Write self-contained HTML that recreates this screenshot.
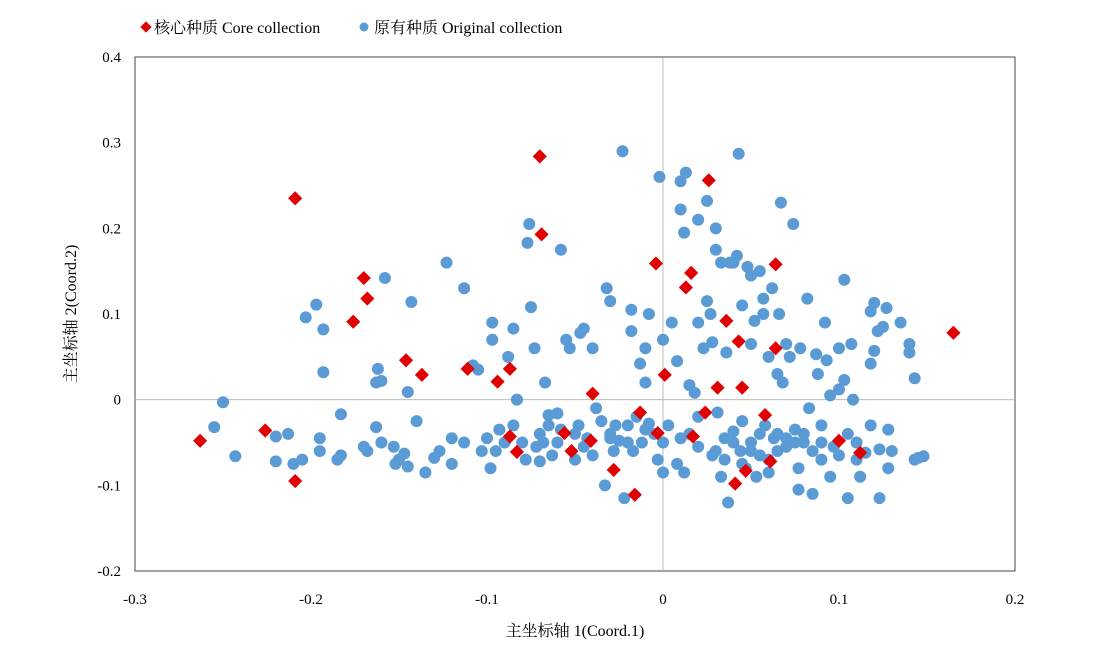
<!DOCTYPE html>
<html><head><meta charset="utf-8"><style>
body{margin:0;background:#fff;}
svg{display:block;font-family:"Liberation Serif","Noto Serif CJK SC",serif;}
</style></head><body>
<svg id="chart" width="1100" height="653" viewBox="0 0 1100 653">
<g>
<rect x="142" y="23" width="8" height="8" fill="#e00000" transform="rotate(45 146 27)"/>
<text x="154" y="33" font-size="16">核心种质 Core collection</text>
<circle cx="364" cy="27" r="4.5" fill="#5b9bd5"/>
<text x="374" y="33" font-size="16">原有种质 Original collection</text>
</g>
<rect x="135" y="57" width="880" height="514" fill="none" stroke="#444" stroke-width="1"/>
<g id="grid"></g><g id="ticks"></g><g id="marks"></g>
<text x="575" y="636" font-size="16" text-anchor="middle">主坐标轴 1(Coord.1)</text>
<text transform="translate(76 314) rotate(-90)" font-size="16" text-anchor="middle">主坐标轴 2(Coord.2)</text>
</svg>
<script>
const xTicks=[-0.3,-0.2,-0.1,0,0.1,0.2];
const yTicks=[-0.2,-0.1,0,0.1,0.2,0.3,0.4];
const coreX=[-0.263,-0.226,-0.209,-0.209,-0.176,-0.170,-0.168,-0.146,-0.137,-0.111,-0.094,-0.087,-0.087,-0.083,-0.070,-0.069,-0.056,-0.052,-0.040,-0.041,-0.028,-0.016,-0.013,-0.004,-0.003,0.001,0.013,0.016,0.017,0.026,0.024,0.031,0.036,0.043,0.045,0.047,0.041,0.058,0.064,0.061,0.064,0.100,0.112,0.165];
const coreY=[-0.048,-0.036,0.235,-0.095,0.091,0.142,0.118,0.046,0.029,0.036,0.021,0.036,-0.043,-0.061,0.284,0.193,-0.039,-0.060,0.007,-0.048,-0.082,-0.111,-0.015,0.159,-0.039,0.029,0.131,0.148,-0.043,0.256,-0.015,0.014,0.092,0.068,0.014,-0.083,-0.098,-0.018,0.158,-0.072,0.060,-0.048,-0.062,0.078];
const origPts=[[-0.25,-0.003],[-0.255,-0.032],[-0.243,-0.066],[-0.22,-0.043],[-0.22,-0.072],[-0.213,-0.04],[-0.21,-0.075],[-0.205,-0.07],[-0.203,0.096],[-0.197,0.111],[-0.195,-0.045],[-0.195,-0.06],[-0.193,0.082],[-0.193,0.032],[-0.183,-0.017],[-0.183,-0.065],[-0.185,-0.07],[-0.17,-0.055],[-0.168,-0.06],[-0.163,-0.032],[-0.163,0.02],[-0.162,0.036],[-0.16,0.022],[-0.158,0.142],[-0.16,-0.05],[-0.153,-0.055],[-0.152,-0.075],[-0.15,-0.07],[-0.147,-0.063],[-0.145,-0.078],[-0.145,0.009],[-0.143,0.114],[-0.14,-0.025],[-0.135,-0.085],[-0.13,-0.068],[-0.127,-0.06],[-0.123,0.16],[-0.12,-0.075],[-0.12,-0.045],[-0.113,0.13],[-0.113,-0.05],[-0.108,0.04],[-0.105,0.035],[-0.103,-0.06],[-0.1,-0.045],[-0.098,-0.08],[-0.097,0.09],[-0.097,0.07],[-0.095,-0.06],[-0.093,-0.035],[-0.09,-0.05],[-0.088,0.05],[-0.085,0.083],[-0.085,-0.03],[-0.083,0.0],[-0.08,-0.05],[-0.078,-0.07],[-0.077,0.183],[-0.076,0.205],[-0.075,0.108],[-0.073,0.06],[-0.072,-0.055],[-0.07,-0.072],[-0.07,-0.04],[-0.068,-0.05],[-0.067,0.02],[-0.065,-0.018],[-0.063,-0.065],[-0.06,-0.016],[-0.058,-0.035],[-0.058,0.175],[-0.055,0.07],[-0.053,0.06],[-0.05,-0.07],[-0.048,-0.03],[-0.047,0.078],[-0.045,0.083],[-0.043,-0.045],[-0.04,0.06],[-0.04,-0.065],[-0.038,-0.01],[-0.035,-0.025],[-0.033,-0.1],[-0.032,0.13],[-0.03,0.115],[-0.03,-0.04],[-0.028,-0.06],[-0.027,-0.03],[-0.025,-0.048],[-0.023,0.29],[-0.022,-0.115],[-0.02,-0.03],[-0.018,0.105],[-0.018,0.08],[-0.017,-0.06],[-0.015,-0.02],[-0.013,0.042],[-0.012,-0.05],[-0.01,0.02],[-0.008,0.1],[-0.008,-0.028],[-0.005,-0.04],[-0.003,-0.07],[-0.002,0.26],[0,-0.085],[0,0.07],[0.003,-0.03],[0.005,0.09],[0.008,0.045],[0.008,-0.075],[0.01,0.222],[0.01,0.255],[0.012,0.195],[0.012,-0.085],[0.013,0.265],[0.015,-0.04],[0.015,0.017],[0.018,0.008],[0.02,0.21],[0.02,-0.055],[0.02,-0.02],[0.023,0.06],[0.025,0.115],[0.025,0.232],[0.027,0.1],[0.028,-0.065],[0.028,0.067],[0.03,0.175],[0.03,0.2],[0.031,-0.015],[0.033,0.16],[0.033,-0.09],[0.035,-0.07],[0.036,0.055],[0.037,-0.12],[0.038,0.16],[0.04,0.16],[0.04,-0.037],[0.042,0.168],[0.043,0.287],[0.044,-0.06],[0.045,0.11],[0.045,-0.025],[0.047,-0.08],[0.048,0.155],[0.05,0.145],[0.05,0.065],[0.05,-0.05],[0.052,0.092],[0.053,-0.09],[0.055,0.15],[0.055,-0.065],[0.057,0.118],[0.057,0.1],[0.058,-0.03],[0.06,-0.085],[0.06,0.05],[0.062,0.13],[0.063,-0.045],[0.065,-0.06],[0.066,0.1],[0.067,0.23],[0.068,0.02],[0.07,-0.055],[0.07,0.065],[0.072,0.05],[0.074,0.205],[0.075,-0.035],[0.077,-0.08],[0.077,-0.105],[0.078,0.06],[0.08,-0.05],[0.082,0.118],[0.083,-0.01],[0.085,-0.06],[0.085,-0.11],[0.087,0.053],[0.088,0.03],[0.09,-0.07],[0.09,-0.03],[0.092,0.09],[0.093,0.046],[0.095,0.005],[0.095,-0.09],[0.097,-0.055],[0.1,-0.065],[0.1,0.06],[0.1,0.012],[0.103,0.14],[0.103,0.023],[0.105,-0.04],[0.105,-0.115],[0.107,0.065],[0.108,0.0],[0.11,-0.05],[0.11,-0.07],[0.112,-0.09],[0.115,-0.062],[0.118,0.042],[0.118,0.103],[0.118,-0.03],[0.12,0.057],[0.12,0.113],[0.122,0.08],[0.123,-0.058],[0.123,-0.115],[0.125,0.085],[0.127,0.107],[0.128,-0.035],[0.128,-0.08],[0.13,-0.06],[0.135,0.09],[0.14,0.065],[0.14,0.055],[0.143,0.025],[0.143,-0.07],[0.145,-0.068],[0.148,-0.066],
[-0.03,-0.045],[-0.02,-0.05],[-0.01,-0.035],[0.0,-0.05],[0.01,-0.045],[0.035,-0.045],[0.04,-0.05],[0.05,-0.06],[0.055,-0.04],[0.065,-0.04],[0.07,-0.045],[0.075,-0.05],[0.08,-0.04],[0.09,-0.05],[0.06,-0.07],[0.045,-0.075],[0.03,-0.06],[-0.045,-0.055],[-0.05,-0.04],[-0.06,-0.05],[-0.065,-0.03],[0.065,0.03],[0.02,0.09],[-0.01,0.06]];
const NS='http://www.w3.org/2000/svg';
const X0=135,X1=1015,Y0=571,Y1=57;
function sx(v){return X0+(v-(-0.3))/(0.5)*(X1-X0);}
function sy(v){return Y0-(v-(-0.2))/(0.6)*(Y0-Y1);}
function mk(t,a,parent){const e=document.createElementNS(NS,t);for(const k in a)e.setAttribute(k,a[k]);parent.appendChild(e);return e;}
const grid=document.getElementById('grid'),ticks=document.getElementById('ticks'),marks=document.getElementById('marks');
let zl=mk('line',{x1:sx(0),x2:sx(0),y1:Y1,y2:Y0,stroke:'#bbb','stroke-width':1},grid);


let zh=mk('line',{x1:X0,x2:X1,y1:sy(0),y2:sy(0),stroke:'#bbb','stroke-width':1},grid);


xTicks.forEach(v=>{const t=mk('text',{x:sx(v),y:604,'font-size':15,'text-anchor':'middle'},ticks);t.textContent=String(v);

});
yTicks.forEach(v=>{const t=mk('text',{x:121,y:sy(v)+5,'font-size':15,'text-anchor':'end'},ticks);t.textContent=String(v);

});
origPts.forEach(p=>{const c=mk('circle',{cx:sx(p[0]),cy:sy(p[1]),r:6,fill:'#5b9bd5'},marks);

});
coreX.forEach((v,i)=>{const x=sx(v),y=sy(coreY[i]);const r=mk('rect',{x:x-5,y:y-5,width:10,height:10,fill:'#e00000',transform:`rotate(45 ${x} ${y})`},marks);

});
</script>
</body></html>
